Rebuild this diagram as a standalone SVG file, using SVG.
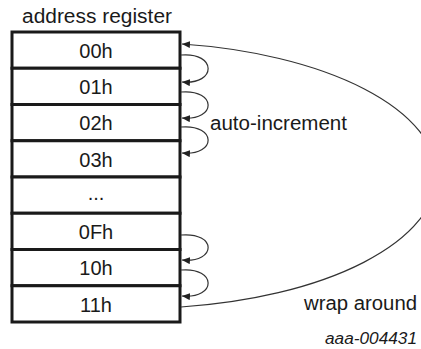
<svg xmlns="http://www.w3.org/2000/svg" width="421" height="349" viewBox="0 0 421 349">
<defs>
<marker id="ah" markerUnits="userSpaceOnUse" markerWidth="9" markerHeight="7" refX="8" refY="3.5" orient="auto">
<path d="M0,0 L8,3.5 L0,7 Z" fill="#222"/>
</marker>
<style>
.row{fill:#fff;stroke:#1a1a1a;stroke-width:3}
.t{font-family:"Liberation Sans",Arial,sans-serif;font-size:20px;fill:#1a1a1a}
.c{text-anchor:middle}
.e{fill:none;stroke:#333;stroke-width:1.2;marker-end:url(#ah)}
</style>
</defs>
<rect width="421" height="349" fill="#fff"/>
<text class="t c" x="97" y="23" textLength="150" lengthAdjust="spacingAndGlyphs">address register</text>
<g id="r00"><rect class="row" x="12" y="32" width="168" height="36.25"/><text class="t c" x="96" y="58">00h</text></g>
<g id="r01"><rect class="row" x="12" y="68.25" width="168" height="36.25"/><text class="t c" x="96" y="94">01h</text></g>
<g id="r02"><rect class="row" x="12" y="104.5" width="168" height="36.25"/><text class="t c" x="96" y="130">02h</text></g>
<g id="r03"><rect class="row" x="12" y="140.75" width="168" height="36.25"/><text class="t c" x="96" y="166.5">03h</text></g>
<g id="rdots"><rect class="row" x="12" y="177" width="168" height="36.25"/><text class="t c" x="96" y="200">...</text></g>
<g id="r0F"><rect class="row" x="12" y="213.25" width="168" height="36.25"/><text class="t c" x="96" y="239">0Fh</text></g>
<g id="r10"><rect class="row" x="12" y="249.5" width="168" height="36.25"/><text class="t c" x="96" y="275">10h</text></g>
<g id="r11"><rect class="row" x="12" y="285.75" width="168" height="36.25"/><text class="t c" x="96" y="311.5">11h</text></g>
<g id="connectors">
<path class="e" d="M181,55 C217,52 217,85 182,82"/>
<path class="e" d="M181,92 C217,89 217,121 182,118"/>
<path class="e" d="M181,127 C217,124 217,156 182,153"/>
<path class="e" d="M181,235 C217,232 217,263 182,260"/>
<path class="e" d="M181,270 C217,267 217,299 182,296"/>
<path class="e" d="M181,307 A300,133 0 0 0 182,44"/>
</g>
<text class="t" x="210" y="130" textLength="137" lengthAdjust="spacingAndGlyphs">auto-increment</text>
<text class="t" x="304" y="310" textLength="113" lengthAdjust="spacingAndGlyphs">wrap around</text>
<text class="t" x="325" y="344" style="font-size:16px;font-style:italic" textLength="92" lengthAdjust="spacingAndGlyphs">aaa-004431</text>
</svg>
